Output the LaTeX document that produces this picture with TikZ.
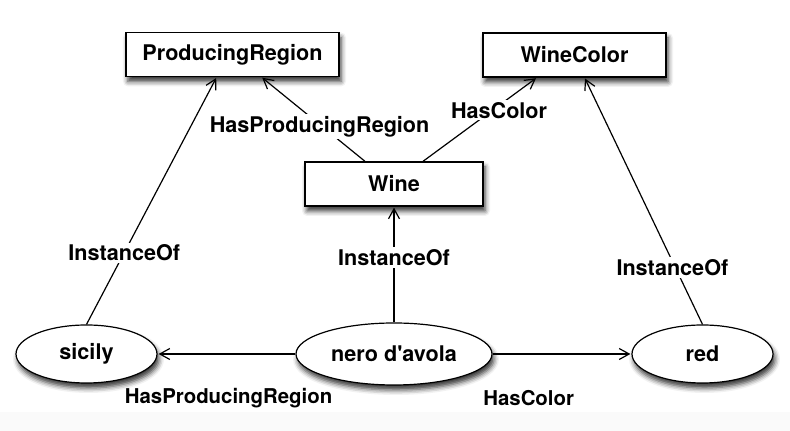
\documentclass[tikz,border=0pt]{standalone}
\usepackage{fontspec}
\setsansfont{TeX Gyre Heros}
\usetikzlibrary{positioning,shapes.geometric,shadows.blur,arrows.meta}

\begin{document}
\begin{tikzpicture}[>={Straight Barb[length=5pt,width=5.5pt]},line width=0.6pt,
   shorten >=0.5pt,on grid,
   every node/.style={font=\sffamily\bfseries\fontsize{10.8}{13}\selectfont},
   class/.style={rectangle,draw,fill=white,minimum height=22pt,inner sep=0pt,
     blur shadow={shadow xshift=1pt,shadow yshift=-2.5pt,shadow blur radius=2.5pt,shadow opacity=80}},
   inst/.style={ellipse,draw,fill=white,minimum height=29pt,inner sep=0pt,
     blur shadow={shadow xshift=1pt,shadow yshift=-2.5pt,shadow blur radius=2.5pt,shadow opacity=80}},
   lbl/.style={fill=white,inner sep=1pt},
   low/.style={yshift=-22pt,font=\sffamily\bfseries\fontsize{10.2}{12}\selectfont}]
   \useasboundingbox (-197pt,-38.5pt) rectangle (198pt,177pt);
   \fill[black!2] (-197pt,-38.5pt) rectangle (198pt,-29pt);
   \node[inst,minimum width=98pt,minimum height=31pt] (nero) {nero d\textquotesingle avola};
   \node[inst,minimum width=70.5pt] (sicily) [left=153.75pt of nero] {sicily};
   \node[inst,minimum width=70.5pt] (red) [right=154.25pt of nero] {red};
   \node[class,minimum width=89pt] (wine) [above=85pt of nero] {Wine};
   \node[class,minimum width=106.5pt] (region) [above left=64.75pt and 80.75pt of wine] {ProducingRegion};
   \node[class,minimum width=91.5pt] (color) [above right=64.5pt and 90.25pt of wine] {WineColor};
    \path[->]
    (nero) edge node[lbl,pos=.56] {InstanceOf} (wine)
    edge node[low,pos=.485] {HasProducingRegion} (sicily)
    edge node[low,pos=.26] {HasColor} (red)
    (sicily.north) edge node[lbl,pos=.29] {InstanceOf} (region.-125)
    (red.north) edge node[lbl,pos=.23,xshift=-1.5pt] {InstanceOf} (color.-66)
    (wine.142) edge node[lbl,pos=.41,xshift=-1.5pt] {HasProducingRegion} (region.-38)
    (wine.38) edge node[lbl,pos=.61,xshift=3.3pt] {HasColor} (color.-149);
\end{tikzpicture}
\end{document}
